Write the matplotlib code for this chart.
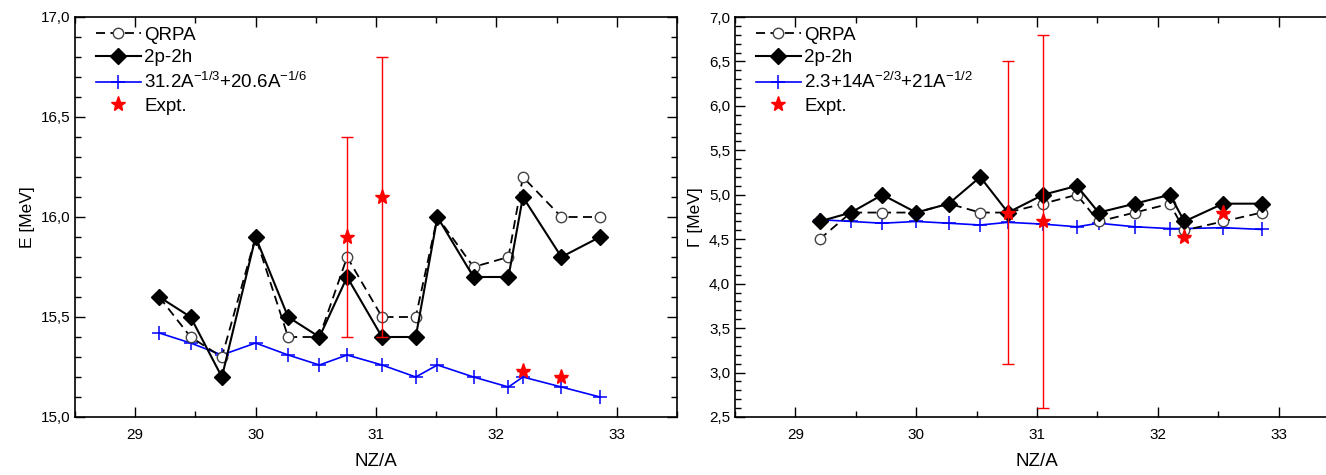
import matplotlib
matplotlib.use("Agg")
import matplotlib.pyplot as plt
from matplotlib.ticker import MultipleLocator, FuncFormatter

plt.rcParams['font.family'] = ['Liberation Sans', 'DejaVu Sans']
plt.rcParams['mathtext.default'] = 'regular'

# NZ/A positions of the nuclei
nza = [29.2, 29.46, 29.72, 30.0, 30.27, 30.53, 30.76, 31.05, 31.33, 31.51,
       31.81, 32.1, 32.22, 32.54, 32.86]

# left panel: centroid energy E [MeV]
e_qrpa = [15.6, 15.4, 15.3, 15.9, 15.4, 15.4, 15.8, 15.5, 15.5, 16.0,
          15.75, 15.8, 16.2, 16.0, 16.0]
e_2p2h = [15.6, 15.5, 15.2, 15.9, 15.5, 15.4, 15.7, 15.4, 15.4, 16.0,
          15.7, 15.7, 16.1, 15.8, 15.9]
e_fit = [15.42, 15.37, 15.31, 15.37, 15.31, 15.26, 15.31, 15.26, 15.2, 15.26,
         15.2, 15.15, 15.2, 15.15, 15.1]
e_exp_x = [30.76, 31.05, 32.22, 32.54]
e_exp = [15.9, 16.1, 15.23, 15.2]
e_exp_err = [0.5, 0.7, 0.0, 0.0]

# right panel: width Gamma [MeV]
g_qrpa = [4.5, 4.8, 4.8, 4.8, 4.9, 4.8, 4.8, 4.9, 5.0, 4.7,
          4.8, 4.9, 4.6, 4.7, 4.8]
g_2p2h = [4.7, 4.8, 5.0, 4.8, 4.9, 5.2, 4.8, 5.0, 5.1, 4.8,
          4.9, 5.0, 4.7, 4.9, 4.9]
g_fit = [4.72, 4.70, 4.68, 4.70, 4.68, 4.66, 4.69, 4.67, 4.64, 4.68,
         4.64, 4.62, 4.62, 4.63, 4.61]
g_exp_x = [30.76, 31.05, 32.22, 32.54]
g_exp = [4.8, 4.7, 4.53, 4.8]
g_exp_err = [1.7, 2.1, 0.0, 0.0]


def comma(v, pos):
    return f"{v:.1f}".replace('.', ',')


def panel(ax, qrpa, p2h, fit, fit_label, ex_x, ex, ex_err, ylim, ylabel):
    ax.plot(nza, qrpa, color='black', linestyle=(0, (5, 3)), lw=1.3,
            marker='o', ms=7.5, mfc='white', mec='#444444', mew=1.0,
            label='QRPA', zorder=3)
    ax.plot(nza, p2h, color='black', lw=1.5, marker='D', ms=8,
            mfc='black', mec='black', label='2p-2h', zorder=4)
    ax.plot(nza, fit, color='blue', lw=1.2, marker='+', ms=10, mew=1.1,
            label=fit_label, zorder=2)
    ax.errorbar(ex_x, ex, yerr=ex_err, fmt='none', ecolor='red',
                elinewidth=1.0, capsize=4, capthick=1.0, zorder=5)
    ax.plot(ex_x, ex, linestyle='none', marker='*', ms=11, color='red',
            label='Expt.', zorder=6)

    ax.set_xlim(28.5, 33.5)
    ax.set_ylim(*ylim)
    ax.xaxis.set_major_locator(MultipleLocator(1))
    ax.xaxis.set_minor_locator(MultipleLocator(0.5))
    ax.yaxis.set_major_locator(MultipleLocator(0.5))
    ax.yaxis.set_minor_locator(MultipleLocator(0.1))
    ax.yaxis.set_major_formatter(FuncFormatter(comma))
    ax.tick_params(which='both', direction='in', top=True, right=True,
                   labelsize=11, width=1.0)
    ax.tick_params(which='major', length=7)
    ax.tick_params(which='minor', length=4)
    ax.tick_params(axis='x', pad=8)
    for s in ax.spines.values():
        s.set_linewidth(1.2)
    ax.set_xlabel('NZ/A', fontsize=13.5, labelpad=8)
    ax.set_ylabel(ylabel, fontsize=12.5, labelpad=4)
    ax.legend(loc='upper left', bbox_to_anchor=(0.025, 0.99), frameon=False,
              fontsize=13.5, handlelength=2.4, handletextpad=0.2,
              labelspacing=0.3, borderaxespad=0.0, borderpad=0.3)


fig = plt.figure(figsize=(13.26, 4.75), dpi=100)
ax1 = fig.add_axes([75 / 1326, 58 / 475, 602 / 1326, 400 / 475])
ax2 = fig.add_axes([735 / 1326, 58 / 475, 604 / 1326, 400 / 475])

panel(ax1, e_qrpa, e_2p2h, e_fit, '31.2A$^{-1/3}$+20.6A$^{-1/6}$',
      e_exp_x, e_exp, e_exp_err, (15.0, 17.0), 'E [MeV]')
panel(ax2, g_qrpa, g_2p2h, g_fit, '2.3+14A$^{-2/3}$+21A$^{-1/2}$',
      g_exp_x, g_exp, g_exp_err, (2.5, 7.0), 'Γ [MeV]')

fig.savefig('out.png', dpi=100)
